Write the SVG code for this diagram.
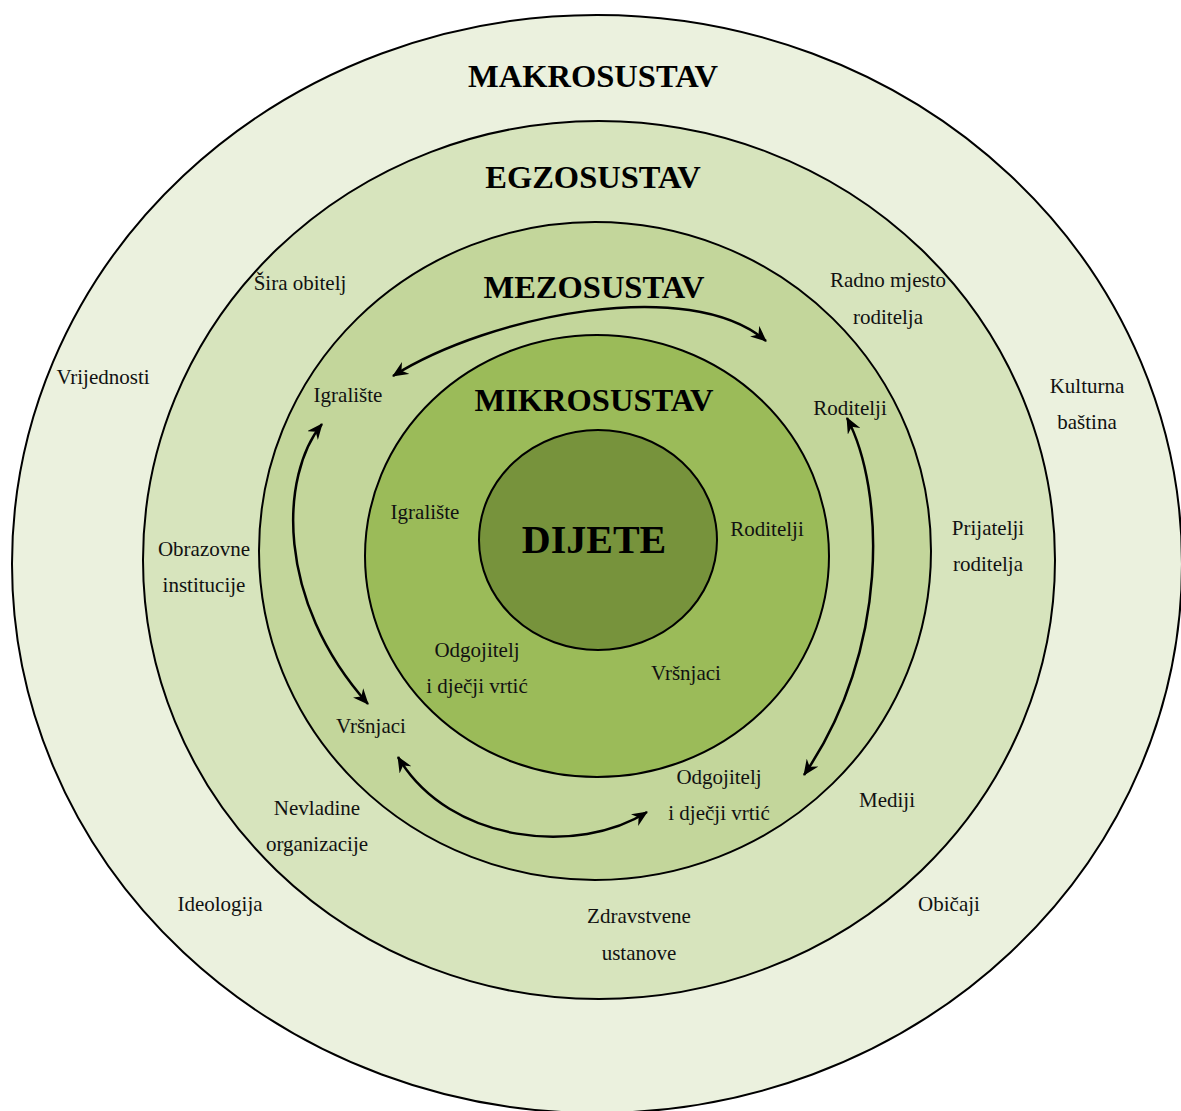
<svg xmlns="http://www.w3.org/2000/svg" width="1181" height="1111" viewBox="0 0 1181 1111">
  <defs>
    <style>
      .ring { stroke: #000; stroke-width: 2; }
      .title { font-family: "Liberation Serif", "Times New Roman", serif; font-weight: bold; font-size: 32.5px; fill: #000; text-anchor: middle; }
      .lbl { font-family: "Liberation Serif", "Times New Roman", serif; font-size: 21px; fill: #111; text-anchor: middle; }
      .conn { fill: none; stroke: #000; stroke-width: 2.5; marker-start: url(#arr); marker-end: url(#arr); }
    </style>
    <marker id="arr" viewBox="0 0 16 14" refX="15" refY="7" markerWidth="16" markerHeight="14" orient="auto-start-reverse" markerUnits="userSpaceOnUse">
      <path d="M0,0 L16,7 L0,14 L5,7 z" fill="#000"/>
    </marker>
  </defs>
  <rect width="1181" height="1111" fill="#fff"/>

  <g id="makrosustav">
    <ellipse class="ring" cx="597" cy="564" rx="585" ry="549" fill="#EBF1DE"/>
    <text class="title" x="593" y="87">MAKROSUSTAV</text>
    <text class="lbl" x="103" y="384">Vrijednosti</text>
    <text class="lbl" x="1087" y="393">Kulturna</text>
    <text class="lbl" x="1087" y="429">baština</text>
    <text class="lbl" x="220" y="911">Ideologija</text>
    <text class="lbl" x="949" y="911">Običaji</text>
  </g>

  <g id="egzosustav">
    <ellipse class="ring" cx="599" cy="560" rx="456" ry="439" fill="#D7E4BD"/>
    <text class="title" x="593" y="188">EGZOSUSTAV</text>
    <text class="lbl" x="300" y="290">Šira obitelj</text>
    <text class="lbl" x="888" y="287">Radno mjesto</text>
    <text class="lbl" x="888" y="324">roditelja</text>
    <text class="lbl" x="204" y="556">Obrazovne</text>
    <text class="lbl" x="204" y="592">institucije</text>
    <text class="lbl" x="988" y="535">Prijatelji</text>
    <text class="lbl" x="988" y="571">roditelja</text>
    <text class="lbl" x="887" y="807">Mediji</text>
    <text class="lbl" x="317" y="815">Nevladine</text>
    <text class="lbl" x="317" y="851">organizacije</text>
    <text class="lbl" x="639" y="923">Zdravstvene</text>
    <text class="lbl" x="639" y="960">ustanove</text>
  </g>

  <g id="mezosustav">
    <ellipse class="ring" cx="595" cy="551" rx="336" ry="329" fill="#C3D69B"/>
    <text class="title" x="594" y="298">MEZOSUSTAV</text>
    <text class="lbl" x="348" y="402">Igralište</text>
    <text class="lbl" x="850" y="415">Roditelji</text>
    <text class="lbl" x="371" y="733">Vršnjaci</text>
    <text class="lbl" x="719" y="784">Odgojitelj</text>
    <text class="lbl" x="719" y="820">i dječji vrtić</text>
  </g>

  <g id="mikrosustav">
    <ellipse class="ring" cx="597" cy="556" rx="232" ry="221" fill="#9BBB59"/>
    <text class="title" x="594" y="411">MIKROSUSTAV</text>
    <text class="lbl" x="425" y="519">Igralište</text>
    <text class="lbl" x="767" y="536">Roditelji</text>
    <text class="lbl" x="477" y="657">Odgojitelj</text>
    <text class="lbl" x="477" y="693">i dječji vrtić</text>
    <text class="lbl" x="686" y="680">Vršnjaci</text>
  </g>

  <g id="dijete">
    <ellipse class="ring" cx="598" cy="540" rx="119" ry="110" fill="#77933C"/>
    <text class="title" x="594" y="553" style="font-size:40px">DIJETE</text>
  </g>

  <g id="connectors">
    <path class="conn" d="M 393 376 C 490 315, 690 275, 766 341"/>
    <path class="conn" d="M 322 424 C 280 475, 275 600, 368 704"/>
    <path class="conn" d="M 398 757 C 450 845, 580 855, 647 812"/>
    <path class="conn" d="M 847 418 C 885 490, 890 650, 804 775"/>
  </g>
</svg>
